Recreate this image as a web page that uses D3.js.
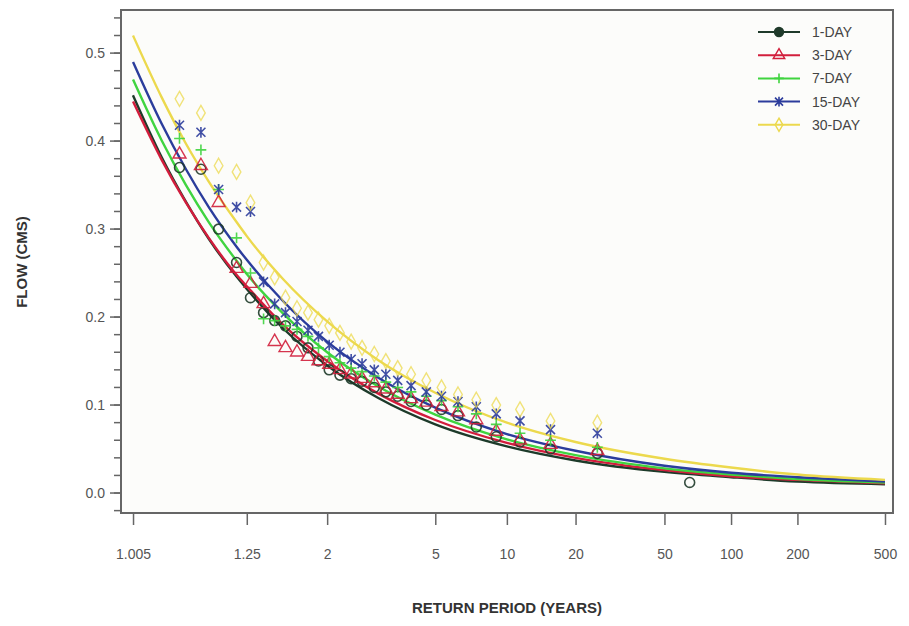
<!DOCTYPE html>
<html>
<head>
<meta charset="utf-8">
<script src="https://cdn.jsdelivr.net/npm/d3@7"></script>
<style>
  html, body { margin: 0; padding: 0; background: #fff; }
  svg { display: block; font-family: "Liberation Sans", Arial, sans-serif; }
</style>
</head>
<body>
<svg id="chart" width="909" height="626"></svg>
<script>
// Low-flow frequency curves: fitted curves plus observed plotting positions
const seriesNames = ["1-DAY", "3-DAY", "7-DAY", "15-DAY", "30-DAY"];
const seriesColors = ["#1f3a2a", "#d21f3c", "#3fd43f", "#2c3c9c", "#ecd94e"];
const seriesMarkers = ["circle", "triangle", "plus", "cross", "diamond"];

// Return periods at which the fitted curves are tabulated
const curveT = [1.005, 1.02, 1.05, 1.1, 1.2, 1.25, 1.5, 2, 3, 5, 10, 20, 50, 100, 200, 500];
const curve1 = [0.452, 0.382, 0.331, 0.289, 0.246, 0.232, 0.187, 0.145, 0.108, 0.078, 0.053, 0.037, 0.024, 0.018, 0.013, 0.010];
const curve3 = [0.445, 0.379, 0.330, 0.290, 0.248, 0.235, 0.191, 0.150, 0.113, 0.083, 0.057, 0.040, 0.026, 0.019, 0.015, 0.011];
const curve7 = [0.470, 0.401, 0.350, 0.308, 0.264, 0.249, 0.204, 0.160, 0.121, 0.089, 0.061, 0.043, 0.028, 0.021, 0.016, 0.012];
const curve15 = [0.490, 0.420, 0.368, 0.325, 0.280, 0.265, 0.218, 0.172, 0.131, 0.097, 0.067, 0.048, 0.031, 0.023, 0.018, 0.013];
const curve30 = [0.520, 0.450, 0.397, 0.354, 0.308, 0.292, 0.243, 0.195, 0.151, 0.114, 0.080, 0.058, 0.039, 0.029, 0.021, 0.015];

// Plotting-position return periods of the observed low flows
const obsT = [1.04, 1.08, 1.13, 1.2, 1.27, 1.35, 1.43, 1.52, 1.63, 1.75, 1.88, 2.03, 2.2, 2.4,
              2.62, 2.9, 3.2, 3.55, 4.0, 4.6, 5.3, 6.2, 7.4, 9, 11.4, 15.5, 25, 65];
const obs1 = [0.370, 0.368, 0.300, 0.262, 0.222, 0.205, 0.196, 0.190, 0.178, 0.165, 0.150, 0.140, 0.134, 0.130,
              0.127, 0.120, 0.115, 0.110, 0.104, 0.100, 0.095, 0.088, 0.075, 0.064, 0.058, 0.050, 0.045, 0.012];
const obs3 = [0.385, 0.372, 0.330, 0.255, 0.238, 0.215, 0.172, 0.165, 0.160, 0.155, 0.150, 0.146, 0.140, 0.135,
              0.130, 0.125, 0.118, 0.112, 0.107, 0.103, 0.098, 0.092, 0.083, 0.070, 0.060, 0.055, 0.048, null];
const obs7 = [0.403, 0.390, 0.345, 0.290, 0.250, 0.198, 0.196, 0.190, 0.186, 0.178, 0.165, 0.155, 0.148, 0.142,
              0.138, 0.133, 0.126, 0.120, 0.115, 0.110, 0.105, 0.098, 0.090, 0.078, 0.068, 0.060, 0.052, null];
const obs15 = [0.418, 0.410, 0.345, 0.325, 0.320, 0.240, 0.215, 0.205, 0.195, 0.185, 0.178, 0.168, 0.160, 0.152,
               0.147, 0.140, 0.135, 0.128, 0.122, 0.115, 0.110, 0.104, 0.098, 0.090, 0.082, 0.072, 0.068, null];
const obs30 = [0.448, 0.432, 0.372, 0.365, 0.330, 0.262, 0.245, 0.222, 0.210, 0.205, 0.197, 0.190, 0.182, 0.172,
               0.165, 0.158, 0.150, 0.142, 0.135, 0.128, 0.120, 0.112, 0.106, 0.100, 0.095, 0.082, 0.080, null];

const xTickT = [1.005, 1.25, 2, 5, 10, 20, 50, 100, 200, 500];
const xTickLabels = ["1.005", "1.25", "2", "5", "10", "20", "50", "100", "200", "500"];
const yTicks = [0.0, 0.1, 0.2, 0.3, 0.4, 0.5];

const curves = [curve1, curve3, curve7, curve15, curve30];
const observed = [obs1, obs3, obs7, obs15, obs30];

// Gumbel reduced variate of the return period
const gumbel = T => -Math.log(-Math.log(1 - 1 / T));

const plot = { left: 121, right: 893, top: 10, bottom: 513 };
const svg = d3.select("#chart");

const xLin = d3.scaleLinear()
  .domain([gumbel(1.005) - 0.126, gumbel(500) + 0.084])
  .range([plot.left, plot.right]);
const x = T => xLin(gumbel(T));
const y = d3.scaleLinear().domain([-0.0227, 0.549]).range([plot.bottom, plot.top]);

const defs = svg.append("defs");
defs.append("clipPath").attr("id", "plotClip")
  .append("rect").attr("x", plot.left).attr("y", plot.top)
  .attr("width", plot.right - plot.left).attr("height", plot.bottom - plot.top);
defs.append("filter").attr("id", "soft")
  .append("feGaussianBlur").attr("stdDeviation", 0.7);

// plot background
svg.append("rect").attr("x", plot.left).attr("y", plot.top)
  .attr("width", plot.right - plot.left).attr("height", plot.bottom - plot.top)
  .attr("fill", "#fcfcfa");

const g = svg.append("g").attr("clip-path", "url(#plotClip)").attr("filter", "url(#soft)");

// fitted curves
const line = d3.line()
  .x(d => x(d[0]))
  .y(d => y(d[1]))
  .curve(d3.curveMonotoneX);

curves.forEach((c, i) => {
  g.append("path")
    .datum(curveT.map((T, k) => [T, c[k]]))
    .attr("d", line)
    .attr("fill", "none")
    .attr("stroke", seriesColors[i])
    .attr("stroke-width", 2.4);
});

// marker shapes
function marker(sel, type, color, size, filled) {
  const s = size;
  if (type === "circle") {
    sel.append("circle").attr("r", s * 0.55).attr("fill", filled ? color : "none")
      .attr("stroke", color).attr("stroke-width", 1.6);
  } else if (type === "triangle") {
    sel.append("path").attr("d", d3.symbol(d3.symbolTriangle, s * s * 0.9)())
      .attr("fill", "none").attr("stroke", color).attr("stroke-width", 1.4);
  } else if (type === "plus") {
    sel.append("path").attr("d", `M${-s * 0.6},0H${s * 0.6}M0,${-s * 0.6}V${s * 0.6}`)
      .attr("stroke", color).attr("stroke-width", 1.6);
  } else if (type === "cross") {
    sel.append("path").attr("d", `M${-s * 0.5},${-s * 0.5}L${s * 0.5},${s * 0.5}M${-s * 0.5},${s * 0.5}L${s * 0.5},${-s * 0.5}M0,${-s * 0.6}V${s * 0.6}`)
      .attr("stroke", color).attr("stroke-width", 1.6);
  } else {
    sel.append("path").attr("d", d3.symbol(d3.symbolDiamond, s * s * 0.8)())
      .attr("fill", "none").attr("stroke", color).attr("stroke-width", 1.4);
  }
}

observed.forEach((obs, i) => {
  const pts = obsT.map((T, k) => [T, obs[k]]).filter(d => d[1] !== null);
  pts.forEach(d => {
    const m = g.append("g").attr("transform", `translate(${x(d[0])},${y(d[1])})`)
      .attr("opacity", i === 4 ? 0.75 : 0.9);
    marker(m, seriesMarkers[i], seriesColors[i], 9, false);
  });
});

// frame
svg.append("rect").attr("x", plot.left).attr("y", plot.top)
  .attr("width", plot.right - plot.left).attr("height", plot.bottom - plot.top)
  .attr("fill", "none").attr("stroke", "#666").attr("stroke-width", 2);

// y axis with minor ticks
const yMinor = d3.range(-0.02, 0.545, 0.02).map(v => +v.toFixed(2));
const yAxisG = svg.append("g");
yAxisG.selectAll("line.minor").data(yMinor).join("line")
  .attr("x1", plot.left - 7).attr("x2", plot.left)
  .attr("y1", d => y(d)).attr("y2", d => y(d))
  .attr("stroke", "#666").attr("stroke-width", 1.5);
yAxisG.selectAll("line.major").data(yTicks).join("line")
  .attr("x1", plot.left - 11).attr("x2", plot.left)
  .attr("y1", d => y(d)).attr("y2", d => y(d))
  .attr("stroke", "#666").attr("stroke-width", 1.5);
yAxisG.selectAll("text").data(yTicks).join("text")
  .attr("x", plot.left - 16).attr("y", d => y(d) + 5)
  .attr("text-anchor", "end").attr("font-size", 14).attr("fill", "#555")
  .text(d => d.toFixed(1));

// x axis on the Gumbel probability scale
const xAxis = d3.axisBottom(xLin)
  .tickValues(xTickT.map(gumbel))
  .tickSize(12).tickPadding(24)
  .tickFormat((d, i) => xTickLabels[i]);
const xAxisG = svg.append("g").attr("transform", `translate(0,${plot.bottom})`).call(xAxis);
xAxisG.select(".domain").remove();
xAxisG.selectAll("line").attr("stroke", "#666").attr("stroke-width", 1.5);
xAxisG.selectAll("text").attr("font-size", 14).attr("fill", "#555")
  .attr("font-family", "Liberation Sans, Arial, sans-serif");

// axis titles
svg.append("text").attr("x", 507).attr("y", 613)
  .attr("text-anchor", "middle").attr("font-size", 15).attr("font-weight", "bold")
  .attr("fill", "#333").text("RETURN PERIOD (YEARS)");
svg.append("text").attr("transform", "translate(27,262) rotate(-90)")
  .attr("text-anchor", "middle").attr("font-size", 15).attr("font-weight", "bold")
  .attr("fill", "#333").text("FLOW (CMS)");

// legend
const legend = svg.append("g");
seriesNames.forEach((name, i) => {
  const ly = 32 + i * 23.2;
  const row = legend.append("g");
  row.append("line").attr("x1", 758).attr("x2", 800).attr("y1", ly).attr("y2", ly)
    .attr("stroke", seriesColors[i]).attr("stroke-width", 2);
  const m = row.append("g").attr("transform", `translate(779,${ly})`);
  marker(m, seriesMarkers[i], seriesColors[i], 8, i === 0);
  row.append("text").attr("x", 812).attr("y", ly + 5)
    .attr("font-size", 14).attr("fill", "#444").text(name);
});
</script>
</body>
</html>
